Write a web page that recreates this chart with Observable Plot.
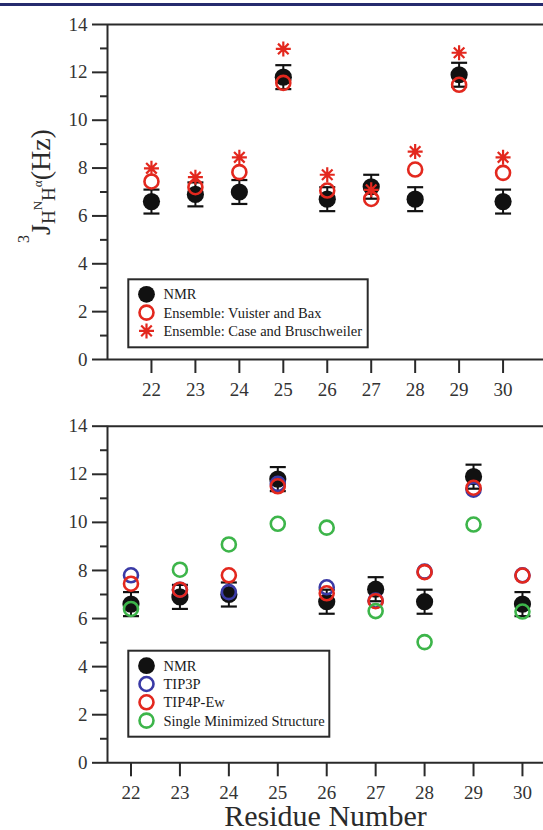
<!DOCTYPE html>
<html><head><meta charset="utf-8">
<script src="https://cdn.jsdelivr.net/npm/d3@7"></script>
<script src="https://cdn.jsdelivr.net/npm/@observablehq/plot@0.6"></script>
<style>
body{margin:0;background:#fff;width:543px;height:830px;overflow:hidden;position:relative;font-family:"Liberation Serif",serif;}
#bar{position:absolute;left:0;top:3px;width:543px;height:3px;background:#262b6e;}
#top{position:absolute;left:0;top:0;}
#bottom{position:absolute;left:0;top:400px;}
svg{overflow:visible}
</style></head><body>
<div id="bar"></div><div id="top"></div><div id="bottom"></div>
<script>
const residues = [22, 23, 24, 25, 26, 27, 28, 29, 30];
const nmr = [6.6, 6.9, 7.0, 11.8, 6.7, 7.22, 6.7, 11.9, 6.6];
const nmrErr = [0.5, 0.5, 0.5, 0.5, 0.5, 0.5, 0.5, 0.5, 0.5];
const vuisterBax = [7.44, 7.2, 7.83, 11.56, 7.06, 6.71, 7.94, 11.48, 7.8];
const caseBruschweiler = [7.99, 7.62, 8.45, 12.98, 7.72, 7.09, 8.69, 12.82, 8.45];
const tip3p = [7.8, 7.2, 7.1, 11.6, 7.3, 6.75, 7.95, 11.36, 7.8];
const tip4pEw = [7.45, 7.2, 7.8, 11.5, 7.05, 6.72, 7.93, 11.44, 7.79];
const singleMin = [6.4, 8.03, 9.08, 9.94, 9.78, 6.31, 5.02, 9.91, 6.29];
const yTicks = [0, 2, 4, 6, 8, 10, 12, 14];
const yMinor = [1, 3, 5, 7, 9, 11, 13];
const xLabel = "Residue Number";

const RED = "#e3281e", BLUE = "#3a3aa6", GREEN = "#3db54a", INK = "#2a2a2a";

const asterisk = {
  draw(ctx, size) {
    const r = Math.sqrt(size / Math.PI);
    for (let i = 0; i < 4; i++) {
      const a = i * Math.PI / 4;
      ctx.moveTo(-r * Math.cos(a), -r * Math.sin(a));
      ctx.lineTo(r * Math.cos(a), r * Math.sin(a));
    }
  }
};
const cap = {
  draw(ctx, size) {
    const r = Math.sqrt(size / Math.PI);
    ctx.moveTo(-r, 0); ctx.lineTo(r, 0);
  }
};

const rows = (vals) => residues.map((x, i) => ({x, y: vals[i]}));
const nmrRows = residues.map((x, i) => ({x, y: nmr[i], lo: nmr[i] - nmrErr[i], hi: nmr[i] + nmrErr[i]}));

function panel({height, marginTop, marginBottom, xDomain, series, legend, legendBox, yLabelY, showXLabel}) {
  const marks = [
    Plot.ruleY([0, 14], {stroke: INK, strokeWidth: 2}),
    Plot.ruleX([xDomain[0]], {stroke: INK, strokeWidth: 2}),
    Plot.axisY(yTicks, {tickSize: 15, tickPadding: 5, strokeWidth: 2, stroke: INK, fill: "#333", fontSize: 19, label: null}),
    Plot.axisY(yMinor, {tickSize: 7, strokeWidth: 2, stroke: INK, tickFormat: () => "", label: null}),
    Plot.axisX(residues, {tickSize: 14, tickPadding: 9, strokeWidth: 2, stroke: INK, fill: "#333", fontSize: 19, label: null}),
    Plot.ruleX(nmrRows, {x: "x", y1: "lo", y2: "hi", stroke: "#111", strokeWidth: 2}),
    Plot.dot(nmrRows, {x: "x", y: "lo", symbol: cap, r: 8, stroke: "#111", strokeWidth: 2.2}),
    Plot.dot(nmrRows, {x: "x", y: "hi", symbol: cap, r: 8, stroke: "#111", strokeWidth: 2.2}),
    Plot.dot(nmrRows, {x: "x", y: "y", r: 8.6, fill: "#111"})
  ];
  for (const s of series) {
    if (s.type === "circle") marks.push(Plot.dot(rows(s.values), {x: "x", y: "y", r: 7, stroke: s.color, strokeWidth: 2.6, fill: "none"}));
    else marks.push(Plot.dot(rows(s.values), {x: "x", y: "y", symbol: asterisk, r: 7.5, stroke: s.color, strokeWidth: 2.2}));
  }
  const svg = Plot.plot({
    width: 543, height,
    marginLeft: 107, marginRight: 0, marginTop, marginBottom,
    x: {domain: xDomain, axis: null, label: null},
    y: {domain: [0, 14], axis: null, label: null},
    style: {fontFamily: "Liberation Serif, serif", background: "transparent", color: "#333"},
    marks
  });
  const s = d3.select(svg);
  // y label
  const t = s.append("text")
    .attr("transform", `translate(50,${yLabelY}) rotate(-90)`)
    .attr("text-anchor", "middle")
    .attr("fill", INK)
    .style("font-family", "Liberation Serif, serif");
  t.append("tspan").attr("font-size", 16).attr("dy", -21).text("3");
  t.append("tspan").attr("font-size", 28).attr("dy", 21).text("J");
  t.append("tspan").attr("font-size", 19).attr("dy", 5).text("H");
  t.append("tspan").attr("font-size", 13).attr("dy", -13).text("N");
  t.append("tspan").attr("font-size", 19).attr("dy", 13).text("H");
  t.append("tspan").attr("font-size", 13).attr("dy", -13).text("α");
  t.append("tspan").attr("font-size", 28).attr("dy", 8).text("(Hz)");
  // legend
  const g = s.append("g").attr("text-anchor", "start");
  g.append("rect").attr("x", legendBox[0]).attr("y", legendBox[1]).attr("width", legendBox[2]).attr("height", legendBox[3])
    .attr("fill", "#fff").attr("stroke", INK).attr("stroke-width", 2);
  legend.forEach((L, i) => {
    const y = legendBox[1] + 15 + i * 18.3;
    const sx = 146.5;
    if (L.type === "filled") g.append("circle").attr("cx", sx).attr("cy", y).attr("r", 8.4).attr("fill", "#111");
    else if (L.type === "circle") g.append("circle").attr("cx", sx).attr("cy", y).attr("r", 7).attr("fill", "none").attr("stroke", L.color).attr("stroke-width", 2.6);
    else g.append("path").attr("transform", `translate(${sx},${y})`).attr("d", d3.symbol(asterisk, Math.PI * 7.5 * 7.5)()).attr("stroke", L.color).attr("stroke-width", 2.2).attr("fill", "none");
    g.append("text").attr("x", 163.5).attr("y", y).attr("dy", "0.35em").attr("font-size", 14.5).attr("fill", "#1a1a1a")
      .attr("text-anchor", "start")
      .style("font-family", "Liberation Serif, serif").text(L.label);
  });
  if (showXLabel) {
    s.append("text").attr("x", 325.5).attr("y", 426).attr("text-anchor", "middle").attr("font-size", 30)
      .attr("fill", INK).style("font-family", "Liberation Serif, serif").text(xLabel);
  }
  return svg;
}

document.getElementById("top").append(panel({
  height: 400, marginTop: 24, marginBottom: 41, xDomain: [21, 30.92],
  series: [
    {type: "circle", values: vuisterBax, color: RED},
    {type: "asterisk", values: caseBruschweiler, color: RED}
  ],
  legend: [
    {type: "filled", label: "NMR"},
    {type: "circle", color: RED, label: "Ensemble: Vuister and Bax"},
    {type: "asterisk", color: RED, label: "Ensemble: Case and Bruschweiler"}
  ],
  legendBox: [128.3, 279.3, 239.4, 68],
  yLabelY: 186, showXLabel: false
}));

document.getElementById("bottom").append(panel({
  height: 430, marginTop: 25.7, marginBottom: 67.7, xDomain: [21.52, 30.43],
  series: [
    {type: "circle", values: tip3p, color: BLUE},
    {type: "circle", values: tip4pEw, color: RED},
    {type: "circle", values: singleMin, color: GREEN}
  ],
  legend: [
    {type: "filled", label: "NMR"},
    {type: "circle", color: BLUE, label: "TIP3P"},
    {type: "circle", color: RED, label: "TIP4P-Ew"},
    {type: "circle", color: GREEN, label: "Single Minimized Structure"}
  ],
  legendBox: [128.3, 250.7, 201, 86],
  yLabelY: 594, showXLabel: true
}));
</script>
</body></html>
